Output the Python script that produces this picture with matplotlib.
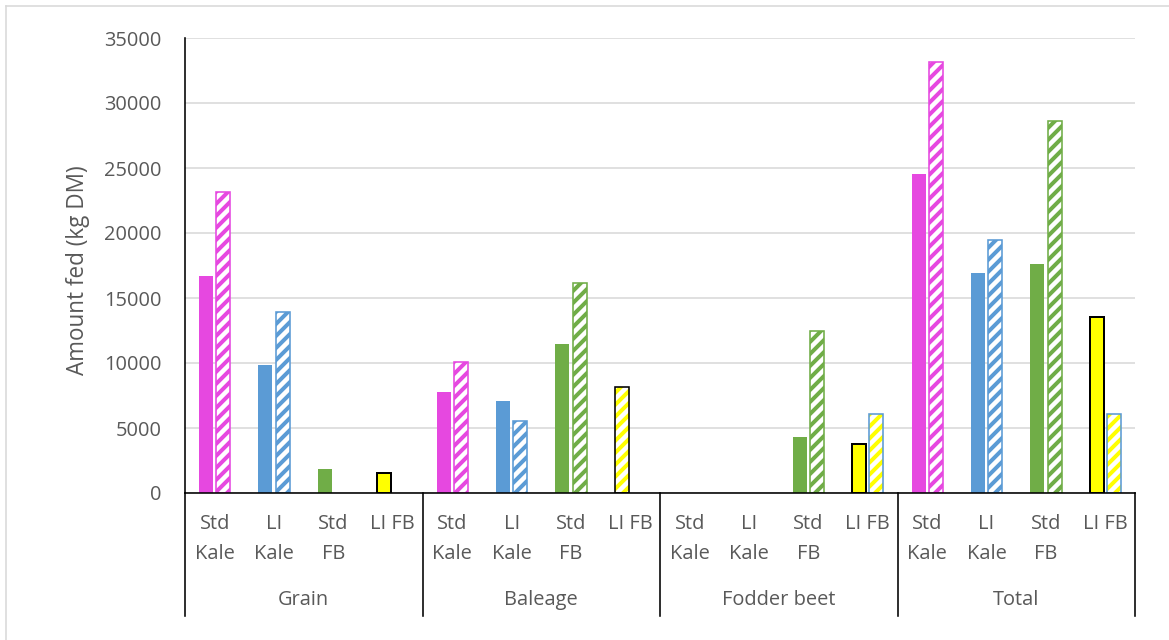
import matplotlib
matplotlib.use("Agg")
import matplotlib.pyplot as plt
from matplotlib.transforms import blended_transform_factory
from matplotlib.lines import Line2D

# ---- data -------------------------------------------------------------
groups = ["Grain", "Baleage", "Fodder beet", "Total"]
treatments = ["Std Kale", "LI Kale", "Std FB", "LI FB"]

# first bar of each pair (left) and second bar (right), kg DM
first_bar = [16700, 9850, 1850, 1560,
             7770, 7080, 11460, 8180,
             0, 0, 4310, 3770,
             24540, 16920, 17610, 13560]
second_bar = [23130, 13950, 0, 0,
              10050, 5560, 16150, 0,
              0, 0, 12460, 6050,
              33180, 19490, 28640, 6050]

y_ticks = [0, 5000, 10000, 15000, 20000, 25000, 30000, 35000]

# ---- styling ------------------------------------------------------------
W, H, DPI = 1169, 640, 72
MAGENTA = "#E648E0"
BLUE = "#5B9BD5"
GREEN = "#70AD47"
YELLOW = "#FFFF00"
TEXT = "#595959"
GRID = "#D9D9D9"
fill_colors = [MAGENTA, BLUE, GREEN, YELLOW]
font = ["Open Sans", "DejaVu Sans"]

plt.rcParams["hatch.linewidth"] = 4.0
plt.rcParams["font.family"] = font

fig = plt.figure(figsize=(W / DPI, H / DPI), dpi=DPI)
ax = fig.add_axes([185 / W, 1 - 493 / H, 950 / W, 455 / H])

n_cat = len(groups) * len(treatments)
ax.set_xlim(-0.5, n_cat - 0.5)
ax.set_ylim(0, 35000)

bw = 0.235
off = 0.145


def solid_bar(x, h, color, edge=None):
    if edge is None:
        ax.bar(x, h, bw, color=color, linewidth=0, zorder=3)
    else:
        ax.bar(x, h, bw, color=color, edgecolor=edge, linewidth=2.0, zorder=3)


def hatched_bar(x, h, color, edge):
    ax.bar(x, h, bw, facecolor="white", edgecolor=color, hatch="//",
           linewidth=0, zorder=3)
    ax.bar(x, h, bw, fill=False, edgecolor=edge, linewidth=1.6, zorder=4)


for i in range(n_cat):
    t = i % len(treatments)
    col = fill_colors[t]
    v1, v2 = first_bar[i], second_bar[i]
    if v1 > 0:
        if t == 3 and groups[i // 4] == "Baleage":
            hatched_bar(i - off, v1, col, "black")
        elif t == 3:
            solid_bar(i - off, v1, col, edge="black")
        else:
            solid_bar(i - off, v1, col)
    if v2 > 0:
        edge = BLUE if t == 3 else col
        hatched_bar(i + off, v2, col, edge)

# gridlines
ax.set_yticks(y_ticks)
ax.yaxis.grid(True, color=GRID, linewidth=1.6, zorder=0)
ax.set_axisbelow(True)
ax.tick_params(axis="y", length=0, pad=23, labelsize=20, labelcolor=TEXT)
ax.set_xticks([])

for s in ["top", "right"]:
    ax.spines[s].set_visible(False)
ax.spines["left"].set_color("black")
ax.spines["left"].set_linewidth(1.6)
ax.spines["bottom"].set_color("black")
ax.spines["bottom"].set_linewidth(1.6)
ax.spines["bottom"].set_zorder(5)

# two-level category axis
xf = blended_transform_factory(ax.transData, fig.transFigure)
for i in range(n_cat):
    label = treatments[i % len(treatments)]
    lines = [label] if label == "LI FB" else label.split(" ")
    for k, line in enumerate(lines):
        ax.text(i, 1 - (524 + 30 * k) / H, line, transform=xf, ha="center",
                va="center", fontsize=20, color=TEXT)

for g, name in enumerate(groups):
    ax.text(g * 4 + 1.5, 1 - 600 / H, name, transform=xf, ha="center",
            va="center", fontsize=20, color=TEXT)

for g in range(len(groups) + 1):
    x = g * 4 - 0.5
    ax.add_line(Line2D([x, x], [1 - 493 / H, 1 - 616 / H], transform=xf,
                       color="black", linewidth=1.6, clip_on=False))

# y-axis title
fig.text(78 / W, 1 - 270 / H, "Amount fed (kg DM)", rotation=90,
         ha="center", va="center", fontsize=22.5, color=TEXT)

# chart area border (left and top edges)
fig.add_artist(Line2D([6 / W, 6 / W], [0, 1 - 6 / H], transform=fig.transFigure,
                      color=GRID, linewidth=1.6))
fig.add_artist(Line2D([6 / W, 1], [1 - 6 / H, 1 - 6 / H], transform=fig.transFigure,
                      color=GRID, linewidth=1.6))

fig.savefig("out.png", dpi=DPI, facecolor="white")
